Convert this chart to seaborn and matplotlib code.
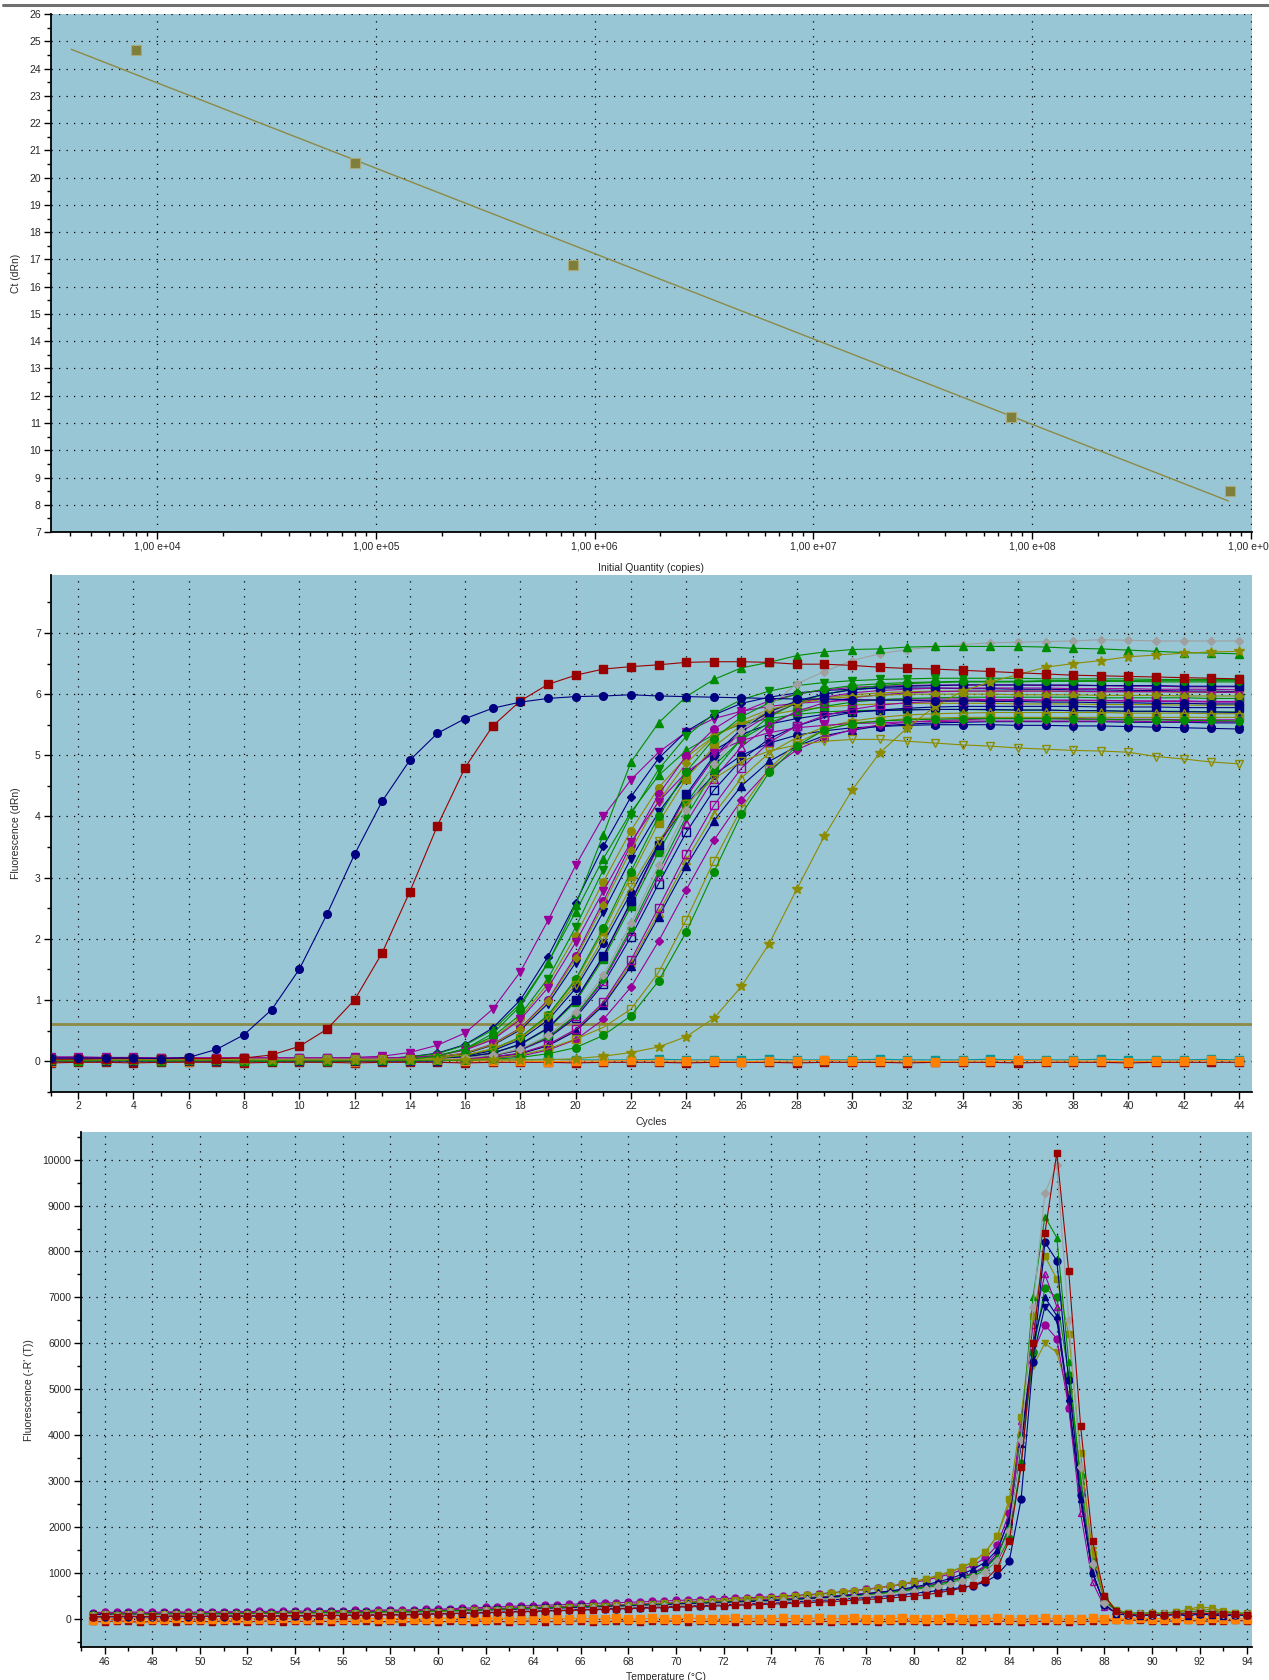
import numpy as np
import seaborn as sns
import matplotlib.pyplot as plt
from matplotlib.lines import Line2D
from matplotlib.ticker import MultipleLocator, LogLocator, FixedLocator, FuncFormatter, NullFormatter

# ---------------- standard curve (top) ----------------
std_qty = [8.0e3, 8.0e4, 8.0e5, 8.0e7, 8.0e8]
std_ct = [24.70, 20.53, 16.79, 11.21, 8.49]
fit_qty = [4.05e3, 7.9e8]
fit_ct = [24.71, 8.14]

# ---------------- amplification plot (middle) ----------------
cycles = list(range(1, 45))
threshold = 0.61

amp_navy_early = [0.05, 0.05, 0.05, 0.05, 0.04, 0.06, 0.19, 0.43, 0.84, 1.5, 2.4, 3.38, 4.25, 4.92, 5.36, 5.6, 5.77, 5.87, 5.93, 5.96, 5.97, 5.99,
                  5.97, 5.96, 5.95, 5.94, 5.93, 5.92, 5.92, 5.91, 5.9, 5.9, 5.89, 5.89, 5.88, 5.88, 5.87, 5.87, 5.86, 5.86, 5.85, 5.85, 5.84, 5.84]
amp_red_early = [0.03, 0.03, 0.04, 0.04, 0.04, 0.04, 0.04, 0.05, 0.1, 0.24, 0.52, 1.0, 1.77, 2.77, 3.85, 4.8, 5.48, 5.89, 6.16, 6.31, 6.41, 6.45,
                 6.48, 6.52, 6.53, 6.53, 6.52, 6.49, 6.49, 6.47, 6.44, 6.42, 6.41, 6.39, 6.37, 6.35, 6.33, 6.31, 6.3, 6.29, 6.28, 6.27, 6.26, 6.25]
amp_green_high = [0.01, 0.0, 0.01, 0.01, 0.0, 0.01, 0.01, 0.0, 0.0, 0.01, 0.0, 0.01, 0.01, 0.03, 0.08, 0.2, 0.45, 0.9, 1.6, 2.55, 3.7, 4.89,
                  5.53, 5.96, 6.24, 6.43, 6.52, 6.63, 6.69, 6.73, 6.74, 6.77, 6.78, 6.78, 6.78, 6.78, 6.77, 6.75, 6.74, 6.72, 6.7, 6.68, 6.67, 6.66]
amp_gray_high = [0.03, 0.03, 0.03, 0.03, 0.03, 0.03, 0.03, 0.03, 0.03, 0.03, 0.03, 0.03, 0.03, 0.03, 0.03, 0.05, 0.1, 0.2, 0.42, 0.8, 1.4, 2.25,
                 3.2, 4.1, 4.85, 5.4, 5.8, 6.17, 6.37, 6.55, 6.66, 6.73, 6.77, 6.81, 6.84, 6.85, 6.86, 6.87, 6.89, 6.88, 6.87, 6.87, 6.87, 6.87]
amp_olive_late = [0.02, 0.02, 0.02, 0.02, 0.02, 0.02, 0.02, 0.02, 0.02, 0.02, 0.02, 0.02, 0.02, 0.02, 0.02, 0.02, 0.02, 0.02, 0.02, 0.04, 0.08, 0.14,
                  0.23, 0.4, 0.7, 1.22, 1.92, 2.81, 3.68, 4.43, 5.04, 5.45, 5.8, 6.05, 6.2, 6.32, 6.44, 6.5, 6.55, 6.61, 6.64, 6.67, 6.69, 6.7]
amp_olive_low = [0.03, 0.03, 0.03, 0.03, 0.03, 0.03, 0.03, 0.03, 0.03, 0.03, 0.03, 0.03, 0.03, 0.03, 0.05, 0.1, 0.2, 0.38, 0.72, 1.25, 2.0, 2.85,
                 3.6, 4.2, 4.62, 4.9, 5.07, 5.17, 5.23, 5.26, 5.26, 5.23, 5.2, 5.17, 5.15, 5.12, 5.1, 5.08, 5.07, 5.05, 4.98, 4.94, 4.89, 4.86]
amp_green_last = [0.01, 0.01, 0.01, 0.01, 0.01, 0.01, 0.01, 0.01, 0.01, 0.01, 0.01, 0.01, 0.01, 0.01, 0.01, 0.01, 0.03, 0.06, 0.12, 0.22, 0.42, 0.74,
                  1.31, 2.11, 3.09, 4.04, 4.72, 5.15, 5.42, 5.52, 5.56, 5.58, 5.59, 5.6, 5.6, 5.6, 5.6, 5.59, 5.59, 5.58, 5.58, 5.57, 5.57, 5.56]
amp_olive_open = [0.02, 0.02, 0.02, 0.02, 0.02, 0.02, 0.02, 0.02, 0.02, 0.02, 0.02, 0.02, 0.02, 0.02, 0.02, 0.02, 0.05, 0.1, 0.2, 0.36, 0.55, 0.85,
                  1.45, 2.31, 3.27, 4.13, 4.78, 5.2, 5.42, 5.53, 5.56, 5.6, 5.61, 5.62, 5.62, 5.62, 5.62, 5.62, 5.62, 5.62, 5.62, 5.62, 5.62, 5.62]
amp_ntc_orange = [-0.01, 0.0, 0.0, 0.01, 0.0, -0.01, 0.0, 0.0, 0.01, 0.0, 0.0, -0.01, 0.0, 0.0, 0.01, 0.0, 0.0, 0.0, -0.01, 0.0, 0.0, 0.01,
                  0.0, 0.0, 0.0, -0.01, 0.0, 0.0, 0.01, 0.0, 0.0, 0.0, -0.01, 0.0, 0.0, 0.01, 0.0, 0.0, 0.0, -0.01, 0.0, 0.0, 0.01, 0.0]
amp_ntc_red = [-0.03, -0.02, -0.02, -0.03, -0.02, -0.02, -0.02, -0.03, -0.02, -0.02, -0.02, -0.03, -0.02, -0.02, -0.02, -0.03, -0.02, -0.02, -0.02, -0.03, -0.02, -0.02,
               -0.02, -0.03, -0.02, -0.02, -0.02, -0.03, -0.02, -0.02, -0.02, -0.03, -0.02, -0.02, -0.02, -0.03, -0.02, -0.02, -0.02, -0.03, -0.02, -0.02, -0.02, -0.02]
amp_ntc_teal = [0.02, 0.02, 0.03, 0.02, 0.02, 0.02, 0.03, 0.02, 0.02, 0.02, 0.03, 0.02, 0.02, 0.02, 0.03, 0.02, 0.02, 0.02, 0.03, 0.02, 0.02, 0.02,
                0.03, 0.02, 0.02, 0.02, 0.03, 0.02, 0.02, 0.02, 0.03, 0.02, 0.02, 0.02, 0.03, 0.02, 0.02, 0.02, 0.03, 0.02, 0.02, 0.02, 0.03, 0.02]

# main bundle of samples
amp_b01 = [0.07, 0.07, 0.06, 0.06, 0.05, 0.05, 0.05, 0.05, 0.05, 0.05, 0.05, 0.06, 0.08, 0.14, 0.26, 0.46, 0.85, 1.46, 2.3, 3.2, 4.0, 4.6,
           5.05, 5.38, 5.6, 5.72, 5.8, 5.85, 5.88, 5.9, 5.91, 5.92, 5.92, 5.92, 5.91, 5.91, 5.9, 5.9, 5.89, 5.89, 5.88, 5.88, 5.87, 5.87]
amp_b02 = [0.04, 0.04, 0.04, 0.04, 0.04, 0.04, 0.04, 0.04, 0.04, 0.04, 0.04, 0.04, 0.04, 0.07, 0.13, 0.27, 0.54, 1.0, 1.71, 2.59, 3.51, 4.32,
           4.95, 5.39, 5.66, 5.85, 5.95, 6.02, 6.06, 6.08, 6.1, 6.1, 6.1, 6.09, 6.09, 6.08, 6.08, 6.07, 6.07, 6.06, 6.06, 6.05, 6.05, 6.04]
amp_b03 = [0.01, 0.01, 0.01, 0.01, 0.01, 0.01, 0.01, 0.01, 0.01, 0.01, 0.01, 0.01, 0.04, 0.07, 0.12, 0.26, 0.51, 0.94, 1.61, 2.44, 3.31, 4.07,
           4.67, 5.08, 5.34, 5.51, 5.6, 5.67, 5.71, 5.73, 5.74, 5.75, 5.75, 5.75, 5.74, 5.74, 5.74, 5.73, 5.73, 5.72, 5.72, 5.72, 5.71, 5.71]
amp_b04 = [0.03, 0.03, 0.03, 0.03, 0.03, 0.03, 0.03, 0.03, 0.03, 0.03, 0.03, 0.03, 0.03, 0.05, 0.09, 0.19, 0.37, 0.71, 1.27, 2.05, 2.93, 3.77,
           4.47, 4.97, 5.31, 5.53, 5.66, 5.74, 5.79, 5.82, 5.84, 5.85, 5.85, 5.85, 5.85, 5.84, 5.84, 5.84, 5.83, 5.83, 5.83, 5.82, 5.82, 5.82]
amp_b05 = [0.03, 0.03, 0.03, 0.03, 0.03, 0.03, 0.03, 0.03, 0.03, 0.03, 0.03, 0.03, 0.03, 0.04, 0.07, 0.12, 0.26, 0.51, 0.94, 1.61, 2.44, 3.31,
           4.07, 4.67, 5.08, 5.34, 5.51, 5.6, 5.67, 5.71, 5.73, 5.74, 5.75, 5.75, 5.75, 5.74, 5.74, 5.73, 5.73, 5.72, 5.72, 5.71, 5.71, 5.7]
amp_b06 = [0.05, 0.05, 0.05, 0.05, 0.05, 0.05, 0.05, 0.05, 0.05, 0.05, 0.05, 0.05, 0.05, 0.05, 0.07, 0.13, 0.28, 0.54, 1.0, 1.72, 2.61, 3.54,
           4.36, 4.99, 5.43, 5.71, 5.89, 6.0, 6.07, 6.11, 6.13, 6.14, 6.15, 6.15, 6.15, 6.15, 6.14, 6.14, 6.14, 6.13, 6.13, 6.12, 6.12, 6.12]
amp_b07 = [0.02, 0.02, 0.02, 0.02, 0.02, 0.02, 0.02, 0.02, 0.02, 0.02, 0.02, 0.02, 0.03, 0.05, 0.09, 0.2, 0.4, 0.76, 1.35, 2.19, 3.13, 4.03,
           4.77, 5.31, 5.68, 5.91, 6.05, 6.14, 6.19, 6.22, 6.24, 6.25, 6.26, 6.26, 6.26, 6.26, 6.25, 6.25, 6.25, 6.25, 6.24, 6.24, 6.24, 6.24]
amp_b08 = [0.03, 0.03, 0.03, 0.03, 0.03, 0.03, 0.03, 0.03, 0.03, 0.03, 0.03, 0.03, 0.03, 0.03, 0.05, 0.09, 0.19, 0.38, 0.74, 1.31, 2.12, 3.02,
           3.9, 4.62, 5.14, 5.49, 5.72, 5.86, 5.94, 5.99, 6.02, 6.04, 6.05, 6.05, 6.05, 6.05, 6.05, 6.04, 6.04, 6.04, 6.04, 6.03, 6.03, 6.03]
amp_b09 = [0.02, 0.02, 0.02, 0.02, 0.02, 0.02, 0.02, 0.02, 0.02, 0.02, 0.02, 0.02, 0.02, 0.02, 0.04, 0.08, 0.17, 0.35, 0.67, 1.19, 1.93, 2.75,
           3.55, 4.2, 4.68, 5.0, 5.2, 5.33, 5.4, 5.45, 5.47, 5.49, 5.5, 5.5, 5.5, 5.49, 5.49, 5.48, 5.48, 5.47, 5.46, 5.45, 5.44, 5.43]
amp_b10 = [0.04, 0.04, 0.04, 0.04, 0.04, 0.04, 0.04, 0.04, 0.04, 0.04, 0.04, 0.04, 0.04, 0.04, 0.04, 0.07, 0.13, 0.27, 0.54, 1.0, 1.71, 2.59,
           3.51, 4.32, 4.95, 5.39, 5.66, 5.85, 5.95, 6.02, 6.06, 6.08, 6.1, 6.1, 6.1, 6.1, 6.1, 6.09, 6.09, 6.09, 6.08, 6.08, 6.08, 6.07]
amp_b11 = [0.02, 0.02, 0.02, 0.02, 0.02, 0.02, 0.02, 0.02, 0.02, 0.02, 0.02, 0.02, 0.02, 0.02, 0.04, 0.07, 0.13, 0.27, 0.53, 0.97, 1.67, 2.53,
           3.42, 4.22, 4.83, 5.26, 5.53, 5.7, 5.8, 5.87, 5.91, 5.93, 5.94, 5.95, 5.95, 5.95, 5.95, 5.95, 5.94, 5.94, 5.94, 5.94, 5.93, 5.93]
amp_b12 = [0.03, 0.03, 0.03, 0.03, 0.03, 0.03, 0.03, 0.03, 0.03, 0.03, 0.03, 0.03, 0.03, 0.03, 0.03, 0.05, 0.09, 0.18, 0.37, 0.71, 1.26, 2.03,
           2.9, 3.74, 4.43, 4.93, 5.27, 5.48, 5.62, 5.7, 5.74, 5.77, 5.79, 5.8, 5.8, 5.8, 5.8, 5.8, 5.79, 5.79, 5.79, 5.78, 5.78, 5.78]
amp_b13 = [0.04, 0.04, 0.04, 0.04, 0.04, 0.04, 0.04, 0.04, 0.04, 0.04, 0.04, 0.04, 0.04, 0.04, 0.04, 0.05, 0.09, 0.19, 0.38, 0.74, 1.31, 2.12,
           3.02, 3.9, 4.62, 5.14, 5.49, 5.72, 5.86, 5.94, 5.99, 6.02, 6.04, 6.05, 6.05, 6.05, 6.05, 6.05, 6.04, 6.04, 6.04, 6.04, 6.03, 6.03]
amp_b14 = [0.02, 0.02, 0.02, 0.02, 0.02, 0.02, 0.02, 0.02, 0.02, 0.02, 0.02, 0.02, 0.02, 0.02, 0.02, 0.04, 0.07, 0.12, 0.26, 0.5, 0.93, 1.6,
           2.42, 3.28, 4.04, 4.63, 5.04, 5.29, 5.46, 5.56, 5.62, 5.66, 5.68, 5.69, 5.7, 5.7, 5.7, 5.7, 5.7, 5.69, 5.69, 5.69, 5.68, 5.68]
amp_b15 = [0.0, 0.0, 0.0, 0.0, 0.0, 0.0, 0.0, 0.0, 0.0, 0.0, 0.0, 0.0, 0.0, 0.0, 0.0, 0.03, 0.06, 0.12, 0.25, 0.49, 0.91, 1.55,
           2.36, 3.19, 3.93, 4.5, 4.9, 5.15, 5.32, 5.41, 5.48, 5.51, 5.53, 5.54, 5.55, 5.55, 5.55, 5.55, 5.55, 5.54, 5.54, 5.54, 5.53, 5.53]
amp_b16 = [0.03, 0.03, 0.03, 0.03, 0.03, 0.03, 0.03, 0.03, 0.03, 0.03, 0.03, 0.03, 0.03, 0.03, 0.03, 0.03, 0.05, 0.08, 0.18, 0.35, 0.68, 1.21,
           1.96, 2.8, 3.61, 4.27, 4.76, 5.09, 5.29, 5.42, 5.5, 5.54, 5.57, 5.58, 5.6, 5.6, 5.6, 5.6, 5.59, 5.59, 5.59, 5.58, 5.58, 5.58]
amp_b17 = [0.02, 0.02, 0.02, 0.02, 0.02, 0.02, 0.02, 0.02, 0.02, 0.02, 0.02, 0.02, 0.02, 0.02, 0.02, 0.05, 0.09, 0.2, 0.39, 0.75, 1.34, 2.17,
           3.1, 4.0, 4.73, 5.27, 5.63, 5.86, 6.0, 6.08, 6.14, 6.17, 6.19, 6.2, 6.2, 6.2, 6.21, 6.21, 6.21, 6.21, 6.2, 6.2, 6.2, 6.2]
amp_b18 = [0.03, 0.03, 0.03, 0.03, 0.03, 0.03, 0.03, 0.03, 0.03, 0.03, 0.03, 0.03, 0.03, 0.03, 0.03, 0.04, 0.07, 0.13, 0.27, 0.52, 0.96, 1.65,
           2.51, 3.39, 4.18, 4.79, 5.21, 5.48, 5.65, 5.75, 5.82, 5.86, 5.88, 5.89, 5.9, 5.9, 5.9, 5.9, 5.9, 5.89, 5.89, 5.89, 5.88, 5.88]
amp_b19 = [0.03, 0.03, 0.03, 0.03, 0.03, 0.03, 0.03, 0.03, 0.03, 0.03, 0.03, 0.03, 0.03, 0.03, 0.04, 0.07, 0.13, 0.28, 0.54, 1.0, 1.72, 2.61,
           3.54, 4.36, 4.99, 5.43, 5.71, 5.89, 6.0, 6.07, 6.11, 6.13, 6.14, 6.15, 6.15, 6.15, 6.15, 6.15, 6.14, 6.14, 6.14, 6.13, 6.13, 6.13]
amp_b20 = [0.03, 0.03, 0.03, 0.03, 0.03, 0.03, 0.03, 0.03, 0.03, 0.03, 0.03, 0.03, 0.03, 0.04, 0.07, 0.13, 0.27, 0.53, 0.98, 1.68, 2.55, 3.45,
           4.25, 4.87, 5.3, 5.57, 5.75, 5.85, 5.92, 5.96, 5.98, 6.0, 6.0, 6.0, 6.0, 5.99, 5.99, 5.99, 5.98, 5.98, 5.98, 5.97, 5.97, 5.97]
amp_b21 = [0.05, 0.05, 0.05, 0.05, 0.05, 0.05, 0.05, 0.05, 0.05, 0.05, 0.05, 0.05, 0.05, 0.06, 0.09, 0.18, 0.35, 0.68, 1.2, 1.94, 2.78, 3.58,
           4.24, 4.72, 5.04, 5.24, 5.37, 5.45, 5.49, 5.52, 5.53, 5.55, 5.55, 5.56, 5.56, 5.56, 5.56, 5.56, 5.56, 5.56, 5.55, 5.55, 5.55, 5.55]
amp_b22 = [0.02, 0.02, 0.02, 0.02, 0.02, 0.02, 0.02, 0.02, 0.02, 0.02, 0.02, 0.02, 0.02, 0.02, 0.05, 0.09, 0.2, 0.39, 0.75, 1.34, 2.17, 3.1,
           4.0, 4.73, 5.27, 5.63, 5.86, 6.0, 6.08, 6.14, 6.17, 6.19, 6.2, 6.21, 6.21, 6.21, 6.22, 6.22, 6.22, 6.22, 6.22, 6.22, 6.22, 6.22]

# ---------------- melt curve (bottom) ----------------
melt_temp = np.arange(45.5, 94.01, 0.5)

melt_red = [40, 50, 45, 55, 40, 50, 45, 60, 50, 45, 55, 50, 60, 55, 65, 50, 60, 70, 55, 65,
            70, 65, 75, 70, 80, 85, 75, 90, 95, 100, 105, 115, 120, 125, 135, 140, 150, 155, 165, 170,
            180, 185, 195, 200, 210, 215, 225, 230, 240, 250, 255, 265, 270, 280, 290, 295, 305, 315, 325, 335,
            345, 360, 370, 385, 400, 415, 430, 450, 470, 495, 520, 560, 610, 660, 730, 840, 1100, 1700, 3300, 6000,
            8400, 10150, 7570, 4200, 1700, 500, 160, 90, 80, 90, 80, 100, 110, 120, 110, 100, 90, 80]
melt_gray = [60, 70, 65, 75, 70, 65, 75, 80, 70, 75, 80, 75, 85, 80, 90, 85, 90, 95, 90, 100,
             100, 95, 105, 100, 110, 115, 110, 120, 125, 130, 135, 145, 150, 160, 165, 175, 185, 190, 200, 205,
             215, 225, 230, 240, 245, 255, 265, 275, 280, 290, 300, 310, 320, 325, 335, 345, 355, 365, 375, 390,
             405, 420, 435, 455, 475, 495, 520, 545, 575, 610, 650, 700, 760, 830, 910, 1020, 1250, 1900, 3900, 6800,
             9270, 9890, 6500, 3300, 1200, 350, 140, 100, 90, 100, 90, 110, 130, 140, 130, 110, 100, 90]
melt_green_tri = [90, 100, 95, 105, 100, 95, 105, 110, 100, 105, 110, 105, 115, 110, 120, 115, 120, 125, 120, 130,
                  135, 130, 140, 135, 145, 150, 145, 155, 160, 165, 170, 180, 185, 195, 200, 210, 220, 225, 235, 240,
                  250, 260, 265, 275, 280, 290, 300, 310, 315, 325, 335, 345, 355, 360, 370, 380, 390, 400, 410, 425,
                  440, 455, 470, 490, 510, 530, 555, 580, 610, 650, 700, 750, 810, 890, 980, 1100, 1350, 2000, 4000, 7000,
                  8760, 8300, 5600, 3000, 1200, 400, 160, 120, 110, 120, 110, 130, 140, 160, 150, 130, 120, 110]
melt_navy_circ = [30, 40, 35, 45, 40, 35, 45, 50, 40, 45, 50, 45, 55, 50, 60, 55, 60, 65, 60, 70,
                  75, 70, 80, 75, 85, 90, 85, 95, 100, 105, 110, 120, 125, 135, 140, 150, 160, 165, 175, 180,
                  190, 200, 205, 215, 220, 230, 240, 250, 255, 265, 275, 285, 295, 300, 310, 320, 330, 340, 350, 365,
                  380, 395, 410, 425, 440, 460, 480, 500, 525, 550, 580, 610, 640, 680, 720, 800, 950, 1250, 2600, 5600,
                  8200, 7800, 5200, 2700, 1000, 300, 120, 80, 70, 80, 70, 90, 100, 110, 100, 90, 80, 70]
melt_olive_sq = [80, 90, 85, 95, 90, 85, 95, 100, 90, 95, 100, 95, 105, 100, 110, 105, 110, 115, 110, 120,
                 125, 120, 130, 125, 135, 140, 135, 145, 150, 155, 165, 175, 180, 190, 195, 205, 215, 220, 230, 240,
                 250, 260, 270, 280, 290, 300, 310, 320, 330, 340, 355, 365, 380, 390, 405, 420, 435, 450, 465, 485,
                 505, 525, 550, 575, 600, 630, 665, 700, 745, 800, 860, 930, 1010, 1110, 1230, 1450, 1800, 2600, 4400, 6600,
                 7900, 7400, 6200, 3600, 1400, 450, 170, 120, 110, 120, 110, 140, 180, 220, 190, 150, 120, 110]
melt_purple_open = [110, 120, 115, 125, 120, 115, 125, 130, 120, 125, 130, 125, 135, 130, 140, 135, 140, 145, 140, 150,
                    155, 150, 160, 155, 165, 170, 165, 175, 180, 185, 190, 200, 205, 215, 220, 230, 240, 245, 255, 260,
                    270, 280, 285, 295, 300, 310, 320, 330, 335, 345, 355, 365, 375, 380, 390, 400, 410, 420, 430, 445,
                    460, 475, 490, 510, 530, 550, 575, 600, 630, 670, 720, 770, 830, 910, 1000, 1150, 1450, 2200, 4300, 6400,
                    7500, 6800, 4600, 2300, 800, 250, 130, 110, 100, 110, 100, 120, 130, 150, 140, 120, 110, 100]
melt_green_circ = [70, 80, 75, 85, 80, 75, 85, 90, 80, 85, 90, 85, 95, 90, 100, 95, 100, 105, 100, 110,
                   115, 110, 120, 115, 125, 130, 125, 135, 140, 145, 150, 160, 165, 175, 180, 190, 200, 205, 215, 220,
                   230, 240, 245, 255, 260, 270, 280, 290, 295, 305, 315, 325, 335, 340, 350, 360, 370, 380, 390, 405,
                   420, 435, 450, 470, 490, 510, 535, 560, 590, 630, 670, 720, 780, 850, 940, 1050, 1250, 1750, 3400, 5800,
                   7200, 7000, 5300, 3100, 1300, 420, 160, 110, 100, 110, 100, 120, 140, 160, 150, 130, 110, 100]
melt_navy_vtri = [100, 110, 105, 115, 110, 105, 115, 120, 110, 115, 120, 115, 125, 120, 130, 125, 130, 135, 130, 140,
                  145, 140, 150, 145, 155, 160, 155, 165, 170, 175, 180, 190, 195, 205, 210, 220, 230, 235, 245, 250,
                  260, 270, 275, 285, 290, 300, 310, 320, 325, 335, 345, 355, 365, 370, 380, 390, 400, 410, 420, 435,
                  450, 465, 480, 500, 520, 540, 565, 590, 620, 660, 710, 760, 820, 900, 990, 1120, 1380, 2000, 3800, 5700,
                  6800, 6500, 4700, 2600, 1000, 330, 140, 100, 90, 100, 90, 110, 120, 140, 130, 110, 100, 90]
melt_purple_circ = [130, 140, 135, 145, 140, 135, 145, 150, 140, 145, 150, 145, 155, 150, 160, 155, 160, 165, 160, 170,
                    175, 170, 180, 175, 185, 190, 185, 195, 200, 205, 215, 225, 235, 245, 255, 265, 275, 285, 295, 300,
                    310, 320, 330, 340, 345, 355, 365, 375, 385, 395, 405, 415, 425, 435, 445, 455, 465, 475, 490, 505,
                    520, 540, 560, 585, 610, 640, 670, 705, 745, 790, 840, 900, 970, 1060, 1170, 1320, 1600, 2300, 4000, 5800,
                    6400, 6100, 4600, 2800, 1200, 400, 150, 110, 100, 110, 100, 120, 140, 170, 150, 130, 110, 100]
melt_olive_vtri = [90, 100, 95, 105, 100, 95, 105, 110, 100, 105, 110, 105, 115, 110, 120, 115, 120, 125, 120, 130,
                   135, 130, 140, 135, 145, 150, 145, 155, 160, 165, 175, 185, 190, 200, 205, 215, 225, 230, 240, 250,
                   260, 270, 280, 290, 300, 310, 320, 330, 340, 350, 365, 375, 390, 400, 415, 430, 445, 460, 475, 495,
                   515, 535, 560, 585, 610, 640, 675, 710, 755, 810, 870, 940, 1020, 1120, 1250, 1450, 1800, 2500, 3900, 5500,
                   6000, 5800, 4900, 3200, 1500, 500, 190, 130, 120, 130, 120, 150, 200, 260, 230, 170, 130, 120]
melt_navy_tri = [60, 110, 50, 90, 70, 60, 80, 70, 60, 90, 60, 80, 70, 60, 90, 70, 80, 60, 90, 70,
                 100, 80, 110, 90, 80, 120, 90, 130, 100, 120, 140, 110, 150, 170, 160, 190, 200, 190, 220, 210,
                 230, 250, 240, 260, 280, 270, 290, 300, 290, 320, 330, 320, 350, 340, 370, 360, 380, 400, 390, 420,
                 440, 450, 470, 500, 520, 540, 570, 600, 640, 690, 740, 800, 870, 960, 1080, 1230, 1500, 2150, 3800, 6000,
                 7000, 6600, 4800, 2600, 1000, 320, 110, 70, 60, 80, 70, 90, 60, 100, 80, 60, 80, 70]
melt_ntc_orange = [-20, 0, -10, 10, 0, -10, 0, 10, -10, 0, 0, -10, 10, 0, -10, 0, 10, -10, 0, 10,
                   0, -10, 0, 10, 0, -10, 10, 0, -10, 0, 10, 0, -10, 0, 10, 0, -10, 0, 10, 0,
                   0, 10, -10, 0, 10, 0, -10, 10, 0, 0, 10, 0, -10, 0, 10, 0, 0, -10, 10, 0,
                   0, 10, -10, 0, 10, 0, -10, 0, 10, 0, 0, -10, 10, 0, -10, 0, 10, 0, -10, 0,
                   10, 0, -10, 0, 10, 0, -10, 0, 10, 0, 0, 10, -10, 0, 10, 0, -10, 0]
melt_ntc_red = [-60, -70, -50, -60, -80, -60, -50, -70, -60, -60, -70, -50, -60, -70, -60, -50, -70, -60, -60, -50,
                -70, -60, -60, -50, -70, -60, -80, -60, -50, -70, -60, -60, -70, -50, -60, -70, -60, -50, -70, -60,
                -60, -50, -70, -60, -60, -50, -70, -60, -60, -50, -70, -60, -60, -50, -70, -60, -60, -50, -70, -60,
                -60, -50, -70, -60, -60, -50, -70, -60, -60, -50, -70, -60, -60, -50, -70, -60, -60, -50, -70, -60,
                -60, -50, -70, -60, -60, -50, -40, -30, -40, -50, -60, -50, -40, -50, -60, -50, -40, -50]

NAVY = '#000080'
DRED = '#990000'
GREEN = '#008c00'
PURPLE = '#990099'
OLIVE = '#8c8c00'
GRAY = '#a0a0a0'
ORANGE = '#ff8000'
TEAL = '#009999'
BG = '#99c6d5'

sns.set_style('white')
plt.rcParams['font.family'] = ['Liberation Sans', 'DejaVu Sans']
plt.rcParams['font.size'] = 7.5

fig = plt.figure(figsize=(12.69, 16.8), dpi=100)
ax1 = fig.add_axes([0.0398, 0.6833, 0.9468, 0.3083])
ax2 = fig.add_axes([0.0398, 0.3502, 0.9468, 0.3076])
ax3 = fig.add_axes([0.0637, 0.0196, 0.9229, 0.3065])

fig.add_artist(Line2D([0.002, 1.0], [0.9968, 0.9968], transform=fig.transFigure, color='#707070', lw=2.2))


def curve(ax, x, y, color, marker, filled=True, ms=5.5, lw=0.8, z=3):
    sns.lineplot(x=x, y=y, ax=ax, color=color, lw=lw, marker=marker, markersize=ms,
                 markerfacecolor=color if filled else 'none', markeredgecolor=color,
                 markeredgewidth=1.0, zorder=z, estimator=None, sort=False)


def style_axes(ax):
    ax.set_facecolor(BG)
    for s in ['top', 'right']:
        ax.spines[s].set_visible(False)
    for s in ['left', 'bottom']:
        ax.spines[s].set_color('black')
        ax.spines[s].set_linewidth(1.3)
    ax.tick_params(which='both', direction='out', color='black', labelsize=7.5, pad=2,
                   left=True, bottom=True)
    ax.tick_params(which='major', length=5, width=1)
    ax.tick_params(which='minor', length=3, width=1)
    ax.grid(True, which='major', color='black', linestyle=(0, (1, 5)), linewidth=0.9)
    ax.set_axisbelow(True)


# ---- top: standard curve ----
ax1.set_xscale('log')
sns.lineplot(x=fit_qty, y=fit_ct, ax=ax1, color='#8c8a46', lw=1.0, estimator=None)
sns.scatterplot(x=std_qty, y=std_ct, ax=ax1, marker='s', s=55, color='#7f7f3c',
                edgecolor='#a8a878', linewidth=0.8, zorder=4)
ax1.set_xlim(10 ** 3.513, 10 ** 9.005)
ax1.set_ylim(7, 26)
ax1.yaxis.set_major_locator(MultipleLocator(1))
ax1.yaxis.set_minor_locator(MultipleLocator(0.5))
ax1.xaxis.set_major_locator(LogLocator(base=10, numticks=12))
ax1.xaxis.set_minor_locator(LogLocator(base=10, subs=range(2, 10), numticks=12))
ax1.xaxis.set_major_formatter(FuncFormatter(lambda v, p: '1,00 e+%02d' % int(round(np.log10(v)))))
ax1.xaxis.set_minor_formatter(NullFormatter())
style_axes(ax1)
ax1.set_xlabel('Initial Quantity (copies)', fontsize=7.5, labelpad=8)
ax1.set_ylabel('Ct (dRn)', fontsize=7.5, labelpad=6)

# ---- middle: amplification ----
style_axes(ax2)
curve(ax2, cycles, amp_ntc_red, DRED, 's', z=2)
curve(ax2, cycles, amp_ntc_teal, TEAL, 's', z=2)
curve(ax2, cycles, amp_ntc_orange, ORANGE, 's', z=2.2)
ax2.axhline(threshold, color='#8c8a46', lw=2.0, zorder=2.5)

bundle = [
    (amp_b01, PURPLE, 'v', True), (amp_b02, NAVY, 'D', True), (amp_b03, GREEN, '^', True),
    (amp_b04, OLIVE, 'o', True), (amp_b05, NAVY, 'v', True), (amp_b06, PURPLE, 'o', True),
    (amp_b07, GREEN, 'v', True), (amp_b08, OLIVE, 's', True), (amp_b09, NAVY, 'o', True),
    (amp_b10, PURPLE, 'D', True), (amp_b11, GREEN, 's', True), (amp_b12, NAVY, 's', False),
    (amp_b13, PURPLE, '^', False), (amp_b14, OLIVE, '^', False), (amp_b15, NAVY, '^', True),
    (amp_b16, PURPLE, 'D', True), (amp_b17, GREEN, 'D', True), (amp_b18, PURPLE, 's', False),
    (amp_b19, NAVY, 's', True), (amp_b20, OLIVE, 'D', True), (amp_b21, PURPLE, 'v', True),
    (amp_b22, GREEN, 'o', True),
]
for vals, col, mk, filled in bundle:
    curve(ax2, cycles, vals, col, mk, filled, ms=5.5 if mk != 'D' else 4.5)

special = [
    (amp_olive_low, OLIVE, 'v', False), (amp_olive_open, OLIVE, 's', False),
    (amp_green_last, GREEN, 'o', True), (amp_gray_high, GRAY, 'D', True),
    (amp_green_high, GREEN, '^', True), (amp_olive_late, OLIVE, '*', True),
    (amp_red_early, DRED, 's', True), (amp_navy_early, NAVY, 'o', True),
]
for vals, col, mk, filled in special:
    ms = 5.5
    if mk == 'D':
        ms = 4.5
    if mk == '*':
        ms = 7
    curve(ax2, cycles, vals, col, mk, filled, ms=ms, z=4)

ax2.set_xlim(1, 44.47)
ax2.set_ylim(-0.5, 7.95)
ax2.xaxis.set_major_locator(FixedLocator(list(range(2, 45, 2))))
ax2.xaxis.set_minor_locator(MultipleLocator(1))
ax2.yaxis.set_major_locator(FixedLocator(list(range(0, 8))))
ax2.yaxis.set_minor_locator(MultipleLocator(0.5))
ax2.set_xlabel('Cycles', fontsize=7.5, labelpad=4)
ax2.set_ylabel('Fluorescence (dRn)', fontsize=7.5, labelpad=10)

# ---- bottom: melt curve ----
style_axes(ax3)
curve(ax3, melt_temp, melt_ntc_red, DRED, 's', ms=5, z=2)
curve(ax3, melt_temp, melt_ntc_orange, ORANGE, 's', ms=5.5, z=2.2)
melt_set = [
    (melt_olive_vtri, OLIVE, 'v', True), (melt_purple_circ, PURPLE, 'o', True),
    (melt_navy_vtri, NAVY, 'v', True), (melt_green_circ, GREEN, 'o', True),
    (melt_purple_open, PURPLE, '^', False), (melt_olive_sq, OLIVE, 's', True),
    (melt_navy_circ, NAVY, 'o', True), (melt_green_tri, GREEN, '^', True),
    (melt_navy_tri, NAVY, '^', True), (melt_gray, GRAY, 'D', True),
    (melt_red, DRED, 's', True),
]
for vals, col, mk, filled in melt_set:
    curve(ax3, melt_temp, vals, col, mk, filled, ms=5 if mk != 'D' else 4.2, z=3)

ax3.set_xlim(45.0, 94.2)
ax3.set_ylim(-620, 10600)
ax3.xaxis.set_major_locator(FixedLocator(list(range(46, 95, 2))))
ax3.xaxis.set_minor_locator(MultipleLocator(1))
ax3.yaxis.set_major_locator(FixedLocator(list(range(0, 10001, 1000))))
ax3.yaxis.set_minor_locator(MultipleLocator(500))
ax3.set_xlabel('Temperature (°C)', fontsize=7.5, labelpad=4)
ax3.set_ylabel("Fluorescence (-R' (T))", fontsize=7.5, labelpad=6)

fig.savefig('out.png', dpi=100)
